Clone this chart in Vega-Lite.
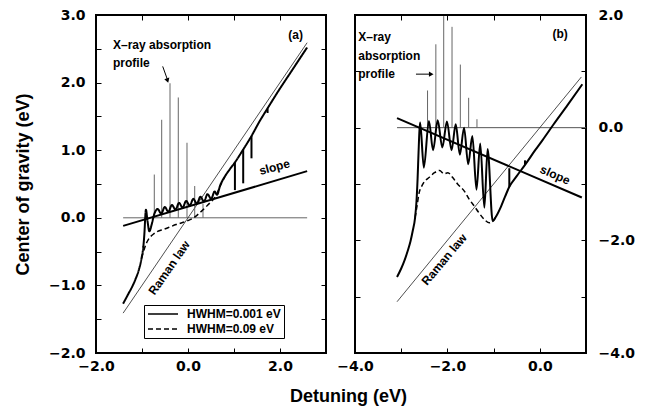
{
  "$schema": "https://vega.github.io/schema/vega-lite/v6.json",
  "padding": {"left": 13, "top": 7, "right": 5, "bottom": 5},
  "background": "white",
  "config": {
    "font": "Liberation Sans",
    "view": {"stroke": "black", "strokeWidth": 2},
    "axis": {
      "domain": false, "grid": false, "tickColor": "black", "tickSize": -5, "tickWidth": 1,
      "labelFont": "DejaVu Sans", "labelFontWeight": "bold", "labelFontSize": 14, "labelColor": "black",
      "labelFlush": false, "labelOverlap": false,
      "titleFont": "Liberation Sans", "titleFontWeight": "bold", "titleFontSize": 18, "titleColor": "black"
    },
    "legend": {
      "strokeColor": "black", "padding": 3, "labelFont": "Liberation Sans", "labelFontWeight": "bold",
      "labelFontSize": 12, "labelColor": "black", "symbolStrokeColor": "black", "symbolStrokeWidth": 1.5,
      "rowPadding": 3, "labelOffset": 8, "fillColor": "white", "clipHeight": 12
    },
    "text": {"font": "Liberation Sans", "fontWeight": "bold", "fontSize": 12, "color": "black"}
  },
  "hconcat": [
    {
      "width": 230, "height": 338,
      "layer": [
        {
          "data": {"values": [{"x": -1.41, "y": 0}, {"x": 2.59, "y": 0}]},
          "mark": {"type": "line", "color": "#666", "strokeWidth": 1},
          "encoding": {
            "x": {"field": "x", "type": "quantitative", "scale": {"domain": [-2, 3], "nice": false, "zero": false},
              "axis": {"orient": "bottom", "values": [-2, -1, 0, 1, 2, 3], "format": ".1f",
                "labelExpr": "datum.value % 2 === 0 ? datum.label : ''", "labelPadding": 11,
                "title": "Detuning (eV)", "titleX": 252, "titleY": 34, "titleAlign": "center"}},
            "y": {"field": "y", "type": "quantitative", "scale": {"domain": [-2, 3], "nice": false, "zero": false},
              "axis": {"orient": "left", "values": [-2, -1.5, -1, -0.5, 0, 0.5, 1, 1.5, 2, 2.5, 3], "format": ".1f",
                "labelExpr": "datum.value % 1 === 0 ? datum.label : ''", "labelPadding": 16,
                "title": "Center of gravity (eV)", "titlePadding": 16}}
          }
        },
        {
          "data": {"values": [{"x": -1.41, "y": -1.41}, {"x": 2.59, "y": 2.59}]},
          "mark": {"type": "line", "color": "#222", "strokeWidth": 0.8},
          "encoding": {
            "x": {"field": "x", "type": "quantitative",
              "axis": {"orient": "top", "values": [-2, -1, 0, 1, 2, 3], "labels": false, "title": null}},
            "y": {"field": "y", "type": "quantitative",
              "axis": {"orient": "right", "values": [-2, -1.5, -1, -0.5, 0, 0.5, 1, 1.5, 2, 2.5, 3], "labels": false, "title": null}}
          }
        },
        {
          "data": {"values": [
            {"x": -0.733, "y": 0, "y2": 0.64}, {"x": -0.572, "y": 0, "y2": 1.45}, {"x": -0.391, "y": 0, "y2": 1.99},
            {"x": -0.211, "y": 0, "y2": 1.78}, {"x": -0.022, "y": 0, "y2": 1.11}, {"x": 0.146, "y": 0, "y2": 0.47},
            {"x": 0.326, "y": 0, "y2": 0.21}
          ]},
          "mark": {"type": "rule", "color": "#666", "strokeWidth": 1},
          "encoding": {
            "x": {"field": "x", "type": "quantitative", "axis": null},
            "y": {"field": "y", "type": "quantitative", "axis": null},
            "y2": {"field": "y2"}
          }
        },
        {
          "data": {"values": [{"x": -1.41, "y": -0.12}, {"x": 2.59, "y": 0.69}]},
          "mark": {"type": "line", "color": "black", "strokeWidth": 2},
          "encoding": {
            "x": {"field": "x", "type": "quantitative", "axis": null},
            "y": {"field": "y", "type": "quantitative", "axis": null}
          }
        },
        {
          "data": {"name": "a_curves"},
          "transform": [{"filter": "datum.s === 'HWHM=0.09 eV'"}],
          "mark": {"type": "line", "color": "black", "strokeWidth": 1.5, "interpolate": "monotone"},
          "encoding": {
            "x": {"field": "x", "type": "quantitative", "axis": null},
            "y": {"field": "y", "type": "quantitative", "axis": null},
            "strokeDash": {"field": "s", "type": "nominal",
              "scale": {"domain": ["HWHM=0.001 eV", "HWHM=0.09 eV"], "range": [[1, 0], [5, 3]]},
              "legend": {"orient": "none", "legendX": 48, "legendY": 290, "title": null, "symbolType": "stroke", "symbolSize": 900}}
          }
        },
        {
          "data": {"name": "a_curves"},
          "transform": [{"filter": "datum.s === 'HWHM=0.001 eV'"}],
          "mark": {"type": "line", "color": "black", "strokeWidth": 2, "interpolate": "monotone"},
          "encoding": {
            "x": {"field": "x", "type": "quantitative", "axis": null},
            "y": {"field": "y", "type": "quantitative", "axis": null},
            "strokeDash": {"field": "s", "type": "nominal",
              "scale": {"domain": ["HWHM=0.001 eV", "HWHM=0.09 eV"], "range": [[1, 0], [5, 3]]}}
          }
        },
        {
          "data": {"values": [
            {"x": 1.02, "y": 0.82, "y2": 0.41}, {"x": 1.20, "y": 1.01, "y2": 0.51},
            {"x": 1.38, "y": 1.21, "y2": 0.88}, {"x": 1.73, "y": 1.62, "y2": 1.55}
          ]},
          "mark": {"type": "rule", "color": "black", "strokeWidth": 2},
          "encoding": {
            "x": {"field": "x", "type": "quantitative", "axis": null},
            "y": {"field": "y", "type": "quantitative", "axis": null},
            "y2": {"field": "y2"}
          }
        },
        {
          "data": {"values": [{"x": -0.55, "y": 2.24}, {"x": -0.45, "y": 2.05}]},
          "mark": {"type": "line", "color": "black", "strokeWidth": 1},
          "encoding": {
            "x": {"field": "x", "type": "quantitative", "axis": null},
            "y": {"field": "y", "type": "quantitative", "axis": null}
          }
        },
        {
          "data": {"values": [{"x": -0.445, "y": 2.03}]},
          "mark": {"type": "point", "shape": "triangle-down", "filled": true, "color": "black", "size": 28, "angle": 342, "opacity": 1},
          "encoding": {
            "x": {"field": "x", "type": "quantitative", "axis": null},
            "y": {"field": "y", "type": "quantitative", "axis": null}
          }
        },
        {
          "data": {"values": [
            {"x": -1.63, "y": 2.56, "t": "X\u2013ray absorption"}, {"x": -1.63, "y": 2.29, "t": "profile"}
          ]},
          "mark": {"type": "text", "align": "left", "baseline": "middle"},
          "encoding": {
            "x": {"field": "x", "type": "quantitative", "axis": null},
            "y": {"field": "y", "type": "quantitative", "axis": null},
            "text": {"field": "t"}
          }
        },
        {
          "data": {"values": [{"x": 2.34, "y": 2.71, "t": "(a)"}]},
          "mark": {"type": "text", "align": "center", "baseline": "middle"},
          "encoding": {
            "x": {"field": "x", "type": "quantitative", "axis": null},
            "y": {"field": "y", "type": "quantitative", "axis": null},
            "text": {"field": "t"}
          }
        },
        {
          "data": {"values": [{"x": 1.88, "y": 0.75, "t": "slope"}]},
          "mark": {"type": "text", "align": "center", "baseline": "middle", "angle": 345},
          "encoding": {
            "x": {"field": "x", "type": "quantitative", "axis": null},
            "y": {"field": "y", "type": "quantitative", "axis": null},
            "text": {"field": "t"}
          }
        },
        {
          "data": {"values": [{"x": -0.41, "y": -0.74, "t": "Raman law"}]},
          "mark": {"type": "text", "align": "center", "baseline": "middle", "angle": 305},
          "encoding": {
            "x": {"field": "x", "type": "quantitative", "axis": null},
            "y": {"field": "y", "type": "quantitative", "axis": null},
            "text": {"field": "t"}
          }
        }
      ],
      "resolve": {"axis": {"x": "independent", "y": "independent"}}
    },
    {
      "width": 231, "height": 338,
      "layer": [
        {
          "data": {"values": [{"x": -3.09, "y": 0}, {"x": 1.0, "y": 0}]},
          "mark": {"type": "line", "color": "#555", "strokeWidth": 1},
          "encoding": {
            "x": {"field": "x", "type": "quantitative", "scale": {"domain": [-4, 1], "nice": false, "zero": false},
              "axis": {"orient": "bottom", "values": [-4, -3, -2, -1, 0, 1], "format": ".1f",
                "labelExpr": "datum.value % 2 === 0 ? datum.label : ''", "labelPadding": 11, "title": null}},
            "y": {"field": "y", "type": "quantitative", "scale": {"domain": [-4, 2], "nice": false, "zero": false},
              "axis": {"orient": "right", "values": [-4, -3, -2, -1, 0, 1, 2], "format": ".1f",
                "labelExpr": "datum.value % 2 === 0 ? datum.label : ''", "labelPadding": 17, "title": null}}
          }
        },
        {
          "data": {"values": [{"x": -3.09, "y": -3.09}, {"x": 0.9, "y": 0.9}]},
          "mark": {"type": "line", "color": "#222", "strokeWidth": 0.8},
          "encoding": {
            "x": {"field": "x", "type": "quantitative",
              "axis": {"orient": "top", "values": [-4, -3, -2, -1, 0, 1], "labels": false, "title": null}},
            "y": {"field": "y", "type": "quantitative",
              "axis": {"orient": "left", "values": [-4, -3, -2, -1, 0, 1, 2], "labels": false, "title": null}}
          }
        },
        {
          "data": {"values": [
            {"x": -2.43, "y": 0, "y2": 0.66}, {"x": -2.25, "y": 0, "y2": 1.48}, {"x": -2.08, "y": 0, "y2": 1.98},
            {"x": -1.90, "y": 0, "y2": 1.79}, {"x": -1.72, "y": 0, "y2": 1.12}, {"x": -1.54, "y": 0, "y2": 0.53},
            {"x": -1.36, "y": 0, "y2": 0.15}
          ]},
          "mark": {"type": "rule", "color": "#666", "strokeWidth": 1},
          "encoding": {
            "x": {"field": "x", "type": "quantitative", "axis": null},
            "y": {"field": "y", "type": "quantitative", "axis": null},
            "y2": {"field": "y2"}
          }
        },
        {
          "data": {"values": [{"x": -3.09, "y": 0.17}, {"x": 0.91, "y": -1.24}]},
          "mark": {"type": "line", "color": "black", "strokeWidth": 2},
          "encoding": {
            "x": {"field": "x", "type": "quantitative", "axis": null},
            "y": {"field": "y", "type": "quantitative", "axis": null}
          }
        },
        {
          "data": {"name": "b_curves"},
          "transform": [{"filter": "datum.s === 'HWHM=0.09 eV'"}],
          "mark": {"type": "line", "color": "black", "strokeWidth": 1.5, "strokeDash": [5, 3], "interpolate": "monotone"},
          "encoding": {
            "x": {"field": "x", "type": "quantitative", "axis": null},
            "y": {"field": "y", "type": "quantitative", "axis": null}
          }
        },
        {
          "data": {"name": "b_curves"},
          "transform": [{"filter": "datum.s === 'HWHM=0.001 eV'"}],
          "mark": {"type": "line", "color": "black", "strokeWidth": 2, "interpolate": "monotone"},
          "encoding": {
            "x": {"field": "x", "type": "quantitative", "axis": null},
            "y": {"field": "y", "type": "quantitative", "axis": null}
          }
        },
        {
          "data": {"values": [{"x": -0.66, "y": -1.05, "y2": -0.72}, {"x": -0.32, "y": -0.66, "y2": -0.58}]},
          "mark": {"type": "rule", "color": "black", "strokeWidth": 2},
          "encoding": {
            "x": {"field": "x", "type": "quantitative", "axis": null},
            "y": {"field": "y", "type": "quantitative", "axis": null},
            "y2": {"field": "y2"}
          }
        },
        {
          "data": {"values": [{"x": -2.68, "y": 0.95}, {"x": -2.36, "y": 0.95}]},
          "mark": {"type": "line", "color": "black", "strokeWidth": 1},
          "encoding": {
            "x": {"field": "x", "type": "quantitative", "axis": null},
            "y": {"field": "y", "type": "quantitative", "axis": null}
          }
        },
        {
          "data": {"values": [{"x": -2.35, "y": 0.95}]},
          "mark": {"type": "point", "shape": "triangle-right", "filled": true, "color": "black", "size": 28, "opacity": 1},
          "encoding": {
            "x": {"field": "x", "type": "quantitative", "axis": null},
            "y": {"field": "y", "type": "quantitative", "axis": null}
          }
        },
        {
          "data": {"values": [
            {"x": -3.93, "y": 1.61, "t": "X\u2013ray"}, {"x": -3.93, "y": 1.28, "t": "absorption"}, {"x": -3.93, "y": 0.95, "t": "profile"}
          ]},
          "mark": {"type": "text", "align": "left", "baseline": "middle"},
          "encoding": {
            "x": {"field": "x", "type": "quantitative", "axis": null},
            "y": {"field": "y", "type": "quantitative", "axis": null},
            "text": {"field": "t"}
          }
        },
        {
          "data": {"values": [{"x": 0.44, "y": 1.66, "t": "(b)"}]},
          "mark": {"type": "text", "align": "center", "baseline": "middle"},
          "encoding": {
            "x": {"field": "x", "type": "quantitative", "axis": null},
            "y": {"field": "y", "type": "quantitative", "axis": null},
            "text": {"field": "t"}
          }
        },
        {
          "data": {"values": [{"x": 0.33, "y": -0.84, "t": "slope"}]},
          "mark": {"type": "text", "align": "center", "baseline": "middle", "angle": 24},
          "encoding": {
            "x": {"field": "x", "type": "quantitative", "axis": null},
            "y": {"field": "y", "type": "quantitative", "axis": null},
            "text": {"field": "t"}
          }
        },
        {
          "data": {"values": [{"x": -2.07, "y": -2.34, "t": "Raman law"}]},
          "mark": {"type": "text", "align": "center", "baseline": "middle", "angle": 310},
          "encoding": {
            "x": {"field": "x", "type": "quantitative", "axis": null},
            "y": {"field": "y", "type": "quantitative", "axis": null},
            "text": {"field": "t"}
          }
        }
      ],
      "resolve": {"axis": {"x": "independent", "y": "independent"}}
    }
  ],
  "spacing": 29,
  "bounds": "flush",
  "datasets": {
    "a_curves": [
      {"s": "HWHM=0.001 eV", "x": -1.41, "y": -1.27}, {"s": "HWHM=0.001 eV", "x": -1.30, "y": -1.13},
      {"s": "HWHM=0.001 eV", "x": -1.20, "y": -1.00}, {"s": "HWHM=0.001 eV", "x": -1.13, "y": -0.89},
      {"s": "HWHM=0.001 eV", "x": -1.06, "y": -0.75}, {"s": "HWHM=0.001 eV", "x": -1.01, "y": -0.60},
      {"s": "HWHM=0.001 eV", "x": -0.97, "y": -0.42}, {"s": "HWHM=0.001 eV", "x": -0.945, "y": -0.20},
      {"s": "HWHM=0.001 eV", "x": -0.93, "y": 0.0}, {"s": "HWHM=0.001 eV", "x": -0.915, "y": 0.12},
      {"s": "HWHM=0.001 eV", "x": -0.88, "y": -0.05}, {"s": "HWHM=0.001 eV", "x": -0.84, "y": -0.20},
      {"s": "HWHM=0.001 eV", "x": -0.79, "y": -0.10}, {"s": "HWHM=0.001 eV", "x": -0.74, "y": 0.04},
      {"s": "HWHM=0.001 eV", "x": -0.66, "y": 0.13}, {"s": "HWHM=0.001 eV", "x": -0.5825, "y": 0.06},
      {"s": "HWHM=0.001 eV", "x": -0.505, "y": 0.16}, {"s": "HWHM=0.001 eV", "x": -0.4275, "y": 0.09},
      {"s": "HWHM=0.001 eV", "x": -0.35, "y": 0.19}, {"s": "HWHM=0.001 eV", "x": -0.2725, "y": 0.12},
      {"s": "HWHM=0.001 eV", "x": -0.195, "y": 0.22}, {"s": "HWHM=0.001 eV", "x": -0.1175, "y": 0.15},
      {"s": "HWHM=0.001 eV", "x": -0.04, "y": 0.25}, {"s": "HWHM=0.001 eV", "x": 0.0375, "y": 0.18},
      {"s": "HWHM=0.001 eV", "x": 0.115, "y": 0.28}, {"s": "HWHM=0.001 eV", "x": 0.1925, "y": 0.21},
      {"s": "HWHM=0.001 eV", "x": 0.27, "y": 0.31}, {"s": "HWHM=0.001 eV", "x": 0.3475, "y": 0.24},
      {"s": "HWHM=0.001 eV", "x": 0.425, "y": 0.35}, {"s": "HWHM=0.001 eV", "x": 0.5025, "y": 0.28},
      {"s": "HWHM=0.001 eV", "x": 0.58, "y": 0.39}, {"s": "HWHM=0.001 eV", "x": 0.63, "y": 0.34},
      {"s": "HWHM=0.001 eV", "x": 0.70, "y": 0.48}, {"s": "HWHM=0.001 eV", "x": 0.80, "y": 0.61},
      {"s": "HWHM=0.001 eV", "x": 0.90, "y": 0.71}, {"s": "HWHM=0.001 eV", "x": 1.02, "y": 0.82},
      {"s": "HWHM=0.001 eV", "x": 1.20, "y": 1.01}, {"s": "HWHM=0.001 eV", "x": 1.38, "y": 1.21},
      {"s": "HWHM=0.001 eV", "x": 1.55, "y": 1.42}, {"s": "HWHM=0.001 eV", "x": 1.73, "y": 1.62},
      {"s": "HWHM=0.001 eV", "x": 1.95, "y": 1.86}, {"s": "HWHM=0.001 eV", "x": 2.25, "y": 2.17},
      {"s": "HWHM=0.001 eV", "x": 2.59, "y": 2.52},
      {"s": "HWHM=0.09 eV", "x": -1.01, "y": -0.60}, {"s": "HWHM=0.09 eV", "x": -0.95, "y": -0.46},
      {"s": "HWHM=0.09 eV", "x": -0.90, "y": -0.37}, {"s": "HWHM=0.09 eV", "x": -0.84, "y": -0.30},
      {"s": "HWHM=0.09 eV", "x": -0.75, "y": -0.24}, {"s": "HWHM=0.09 eV", "x": -0.66, "y": -0.20},
      {"s": "HWHM=0.09 eV", "x": -0.53, "y": -0.17}, {"s": "HWHM=0.09 eV", "x": -0.41, "y": -0.14},
      {"s": "HWHM=0.09 eV", "x": -0.26, "y": -0.10}, {"s": "HWHM=0.09 eV", "x": -0.12, "y": -0.07},
      {"s": "HWHM=0.09 eV", "x": 0.0, "y": -0.04}, {"s": "HWHM=0.09 eV", "x": 0.10, "y": -0.01},
      {"s": "HWHM=0.09 eV", "x": 0.20, "y": 0.04}, {"s": "HWHM=0.09 eV", "x": 0.28, "y": 0.09},
      {"s": "HWHM=0.09 eV", "x": 0.36, "y": 0.14}, {"s": "HWHM=0.09 eV", "x": 0.43, "y": 0.19},
      {"s": "HWHM=0.09 eV", "x": 0.52, "y": 0.25}, {"s": "HWHM=0.09 eV", "x": 0.61, "y": 0.33},
      {"s": "HWHM=0.09 eV", "x": 0.70, "y": 0.47}, {"s": "HWHM=0.09 eV", "x": 0.80, "y": 0.61}
    ],
    "b_curves": [
      {"s": "HWHM=0.001 eV", "x": -3.09, "y": -2.65}, {"s": "HWHM=0.001 eV", "x": -3.00, "y": -2.50},
      {"s": "HWHM=0.001 eV", "x": -2.93, "y": -2.36}, {"s": "HWHM=0.001 eV", "x": -2.86, "y": -2.19},
      {"s": "HWHM=0.001 eV", "x": -2.80, "y": -2.02}, {"s": "HWHM=0.001 eV", "x": -2.75, "y": -1.83},
      {"s": "HWHM=0.001 eV", "x": -2.70, "y": -1.60}, {"s": "HWHM=0.001 eV", "x": -2.67, "y": -1.32},
      {"s": "HWHM=0.001 eV", "x": -2.645, "y": -0.90}, {"s": "HWHM=0.001 eV", "x": -2.625, "y": -0.45},
      {"s": "HWHM=0.001 eV", "x": -2.605, "y": -0.05}, {"s": "HWHM=0.001 eV", "x": -2.59, "y": 0.09},
      {"s": "HWHM=0.001 eV", "x": -2.51, "y": -0.71}, {"s": "HWHM=0.001 eV", "x": -2.40, "y": 0.12},
      {"s": "HWHM=0.001 eV", "x": -2.31, "y": -0.40}, {"s": "HWHM=0.001 eV", "x": -2.21, "y": 0.13},
      {"s": "HWHM=0.001 eV", "x": -2.11, "y": -0.35}, {"s": "HWHM=0.001 eV", "x": -2.01, "y": 0.11},
      {"s": "HWHM=0.001 eV", "x": -1.91, "y": -0.40}, {"s": "HWHM=0.001 eV", "x": -1.82, "y": 0.06},
      {"s": "HWHM=0.001 eV", "x": -1.73, "y": -0.48}, {"s": "HWHM=0.001 eV", "x": -1.64, "y": 0.0},
      {"s": "HWHM=0.001 eV", "x": -1.55, "y": -0.65}, {"s": "HWHM=0.001 eV", "x": -1.46, "y": -0.15},
      {"s": "HWHM=0.001 eV", "x": -1.37, "y": -1.10}, {"s": "HWHM=0.001 eV", "x": -1.29, "y": -0.28},
      {"s": "HWHM=0.001 eV", "x": -1.20, "y": -1.42}, {"s": "HWHM=0.001 eV", "x": -1.13, "y": -0.38},
      {"s": "HWHM=0.001 eV", "x": -1.02, "y": -1.66}, {"s": "HWHM=0.001 eV", "x": -0.95, "y": -1.58},
      {"s": "HWHM=0.001 eV", "x": -0.84, "y": -1.40}, {"s": "HWHM=0.001 eV", "x": -0.75, "y": -1.22},
      {"s": "HWHM=0.001 eV", "x": -0.66, "y": -1.05}, {"s": "HWHM=0.001 eV", "x": -0.50, "y": -0.86},
      {"s": "HWHM=0.001 eV", "x": -0.32, "y": -0.66}, {"s": "HWHM=0.001 eV", "x": -0.10, "y": -0.40},
      {"s": "HWHM=0.001 eV", "x": 0.06, "y": -0.22}, {"s": "HWHM=0.001 eV", "x": 0.30, "y": 0.06},
      {"s": "HWHM=0.001 eV", "x": 0.60, "y": 0.40}, {"s": "HWHM=0.001 eV", "x": 0.92, "y": 0.77},
      {"s": "HWHM=0.09 eV", "x": -2.70, "y": -1.60}, {"s": "HWHM=0.09 eV", "x": -2.66, "y": -1.40},
      {"s": "HWHM=0.09 eV", "x": -2.61, "y": -1.15}, {"s": "HWHM=0.09 eV", "x": -2.55, "y": -1.03},
      {"s": "HWHM=0.09 eV", "x": -2.50, "y": -0.96}, {"s": "HWHM=0.09 eV", "x": -2.39, "y": -0.88},
      {"s": "HWHM=0.09 eV", "x": -2.28, "y": -0.80}, {"s": "HWHM=0.09 eV", "x": -2.17, "y": -0.76},
      {"s": "HWHM=0.09 eV", "x": -2.07, "y": -0.82}, {"s": "HWHM=0.09 eV", "x": -1.99, "y": -0.80},
      {"s": "HWHM=0.09 eV", "x": -1.89, "y": -0.88}, {"s": "HWHM=0.09 eV", "x": -1.78, "y": -1.00},
      {"s": "HWHM=0.09 eV", "x": -1.63, "y": -1.13}, {"s": "HWHM=0.09 eV", "x": -1.53, "y": -1.27},
      {"s": "HWHM=0.09 eV", "x": -1.42, "y": -1.39}, {"s": "HWHM=0.09 eV", "x": -1.31, "y": -1.52},
      {"s": "HWHM=0.09 eV", "x": -1.20, "y": -1.63}, {"s": "HWHM=0.09 eV", "x": -1.09, "y": -1.69},
      {"s": "HWHM=0.09 eV", "x": -1.00, "y": -1.64}, {"s": "HWHM=0.09 eV", "x": -0.93, "y": -1.55}
    ]
  }
}
